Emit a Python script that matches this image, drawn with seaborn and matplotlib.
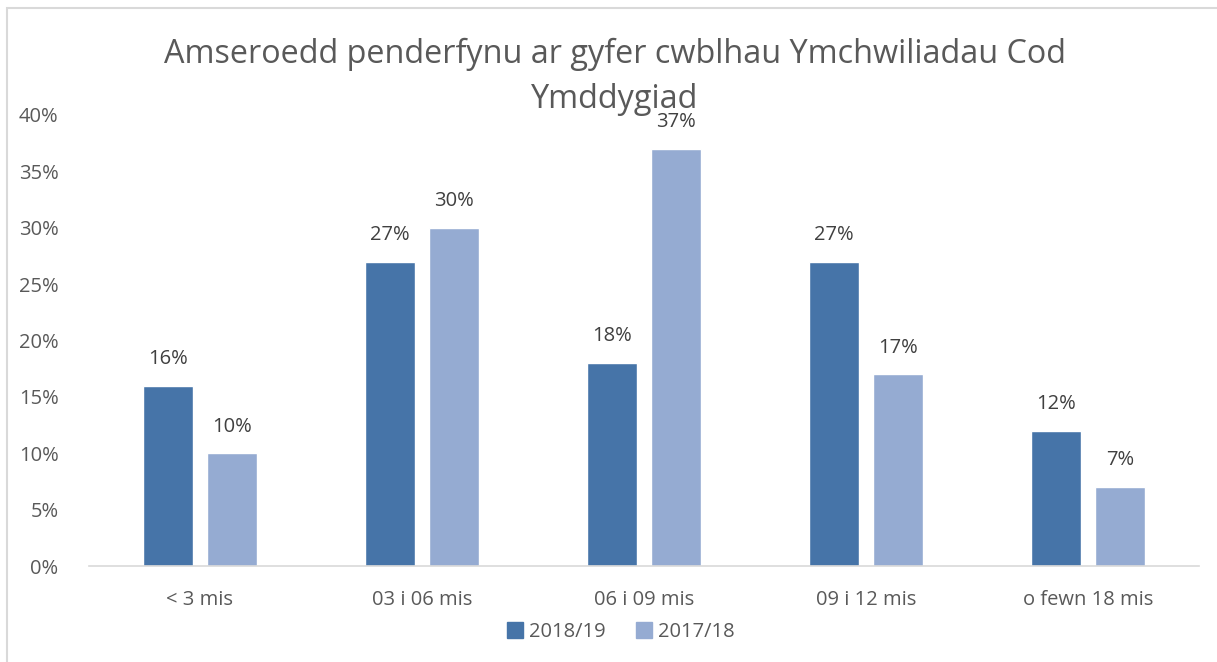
import pandas as pd
import matplotlib.pyplot as plt
import matplotlib.patches as mpatches
import seaborn as sns

categories = ["< 3 mis", "03 i 06 mis", "06 i 09 mis", "09 i 12 mis", "o fewn 18 mis"]
series_names = ["2018/19", "2017/18"]
values_2018_19 = [16, 27, 18, 27, 12]
values_2017_18 = [10, 30, 37, 17, 7]
yticks = [0, 5, 10, 15, 20, 25, 30, 35, 40]

df = pd.DataFrame({
    "Categori": categories * 2,
    "Cyfnod": [series_names[0]] * 5 + [series_names[1]] * 5,
    "Canran": values_2018_19 + values_2017_18,
})

sns.set_theme(style="white")
plt.rcParams["font.family"] = ["Open Sans", "DejaVu Sans"]
text_col = "#595959"
colors = ["#4674a8", "#95abd2"]

fig = plt.figure(figsize=(12.17, 6.62), dpi=100)
ax = fig.add_axes([89 / 1217, 1 - 566 / 662, (1199 - 89) / 1217, (566 - 115) / 662])

sns.barplot(data=df, x="Categori", y="Canran", hue="Cyfnod", palette=colors,
            width=0.576, gap=0.22, saturation=1, ax=ax, legend=False)

for cont in ax.containers:
    ax.bar_label(cont, labels=[f"{v:.0f}%" for v in cont.datavalues],
                 padding=12, fontsize=14.5, color="#404040")

ax.set_ylim(0, 40)
ax.set_yticks(yticks)
ax.set_yticklabels([f"{t}%" for t in yticks])
ax.set_xlabel("")
ax.set_ylabel("")
ax.tick_params(axis="both", colors=text_col, labelsize=14.5, length=0)
ax.tick_params(axis="x", pad=17)
ax.tick_params(axis="y", pad=22)
for s in ["top", "right", "left"]:
    ax.spines[s].set_visible(False)
ax.spines["bottom"].set_color("#d9d9d9")
ax.spines["bottom"].set_linewidth(1.2)

fig.text(0.505, 1 - 77 / 662, "Amseroedd penderfynu ar gyfer cwblhau Ymchwiliadau Cod\nYmddygiad",
         ha="center", va="center", fontsize=23.3, color=text_col, linespacing=1.5)

handles = [mpatches.Patch(color=c, label=n) for c, n in zip(colors, series_names)]
fig.legend(handles=handles, loc="center", bbox_to_anchor=(0.51, 1 - 632 / 662), ncol=2,
           frameon=False, fontsize=14.5, handlelength=0.8, handleheight=0.8,
           handletextpad=0.3, columnspacing=1.5, labelcolor=text_col)

fig.patches.append(mpatches.Rectangle((7 / 1217, -0.1), 1.2, 1 - 8 / 662 + 0.1,
                                      transform=fig.transFigure, fill=False,
                                      edgecolor="#d9d9d9", linewidth=1.5))

fig.savefig("out.png", dpi=100)
